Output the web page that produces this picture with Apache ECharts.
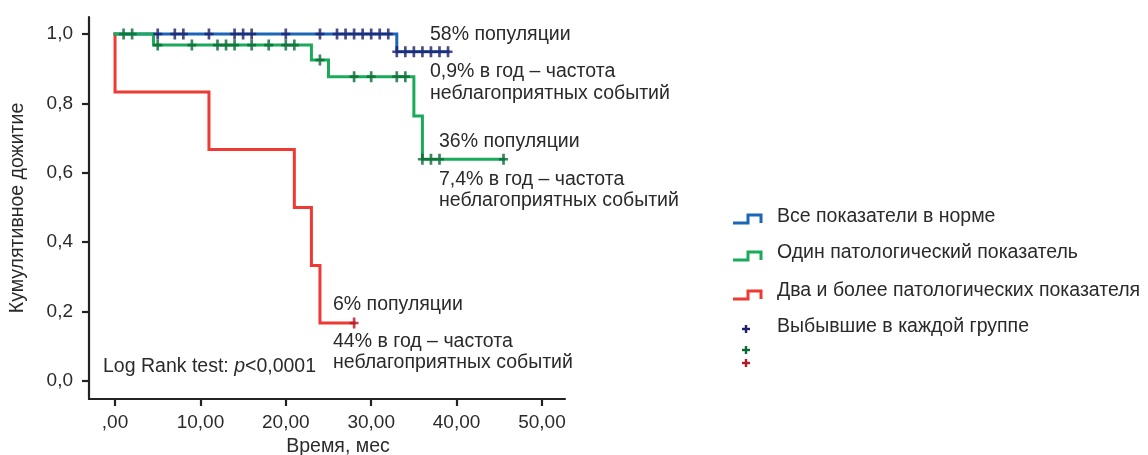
<!DOCTYPE html>
<html>
<head>
<meta charset="utf-8">
<title>Кумулятивное дожитие</title>
<script src="https://cdn.jsdelivr.net/npm/echarts@6/dist/echarts.min.js"></script>
<style>
  html, body { margin: 0; padding: 0; background: #ffffff; }
  #chart { width: 1148px; height: 455px; }
</style>
</head>
<body>
<div id="chart"></div>
<script>
// Tick positions on both axes
const timeTicks = [0, 10, 20, 30, 40, 50];
const survivalTicks = [0, 0.2, 0.4, 0.6, 0.8, 1.0];

// Group 1: all indicators normal — step times and survival after each step
const normalStepTimes = [0, 33];
const normalSurvival = [1.0, 0.949];
const normalCensored = [5, 7, 8, 11, 14, 15, 16, 20, 24, 26, 27, 28, 29, 30, 31, 32,
                        33, 34, 35, 36, 37, 38, 39];

// Group 2: one abnormal indicator
const oneStepTimes = [0, 4.5, 23, 25, 35, 36];
const oneSurvival = [1.0, 0.968, 0.925, 0.877, 0.764, 0.639];
const oneCensored = [1, 2, 5, 9, 12, 13, 14, 16, 18, 20, 21, 24, 28, 30, 33, 34,
                     36, 37, 38, 45.5];

// Group 3: two or more abnormal indicators
const twoStepTimes = [0, 0, 11, 21, 23, 24];
const twoSurvival = [1.0, 0.833, 0.667, 0.5, 0.333, 0.167];
const twoCensored = [28];

const FONT = '"Liberation Sans", Arial, Helvetica, sans-serif';
const FS = 19.5;
const TEXT = '#2a2a2a';

const COL_BLUE = '#1b66b6';
const COL_GREEN = '#19aa5a';
const COL_RED = '#ee3a32';
const MARK_BLUE = '#1d1f6c';
const MARK_GREEN = '#0b6a34';
const MARK_RED = '#b3172b';

// Kaplan–Meier step curve: points at each step, extended to the last follow-up time
function stepLine(times, levels, censored) {
  const pts = times.map((t, i) => [t, levels[i]]);
  const end = Math.max(times[times.length - 1], ...censored);
  pts.push([end, levels[levels.length - 1]]);
  return pts;
}
// Survival level in force at time t
function levelAt(times, levels, t) {
  let s = levels[0];
  for (let i = 0; i < times.length; i++) if (times[i] <= t) s = levels[i];
  return s;
}
function censorPoints(times, levels, censored) {
  return censored.map(t => [t, levelAt(times, levels, t)]);
}

const plusPath = 'path://M28,0 L52,0 L52,38 L80,38 L80,62 L52,62 L52,100 L28,100 L28,62 L0,62 L0,38 L28,38 Z';

function curve(name, color, times, levels, censored, z) {
  return {
    name, type: 'line', step: 'end', z,
    data: stepLine(times, levels, censored),
    symbol: 'none', silent: true,
    lineStyle: { color, width: 3, cap: 'square', join: 'miter' }
  };
}
function marks(name, color, times, levels, censored, z) {
  return {
    name, type: 'scatter', z,
    data: censorPoints(times, levels, censored),
    symbol: plusPath, symbolSize: [9, 11], silent: true,
    itemStyle: { color }
  };
}

const chart = echarts.init(document.getElementById('chart'), null, { renderer: 'canvas' });

// Legend icon: low segment, step up, high segment, short drop at the end
function legendIcon(y, color) {
  return {
    type: 'polyline',
    shape: { points: [[733, y + 8], [748, y + 8], [748, y], [761, y], [761, y + 8]] },
    style: { stroke: color, lineWidth: 3, fill: null, lineJoin: 'miter' }
  };
}
function legendPlus(cx, cy, color) {
  return [
    { type: 'rect', shape: { x: cx - 4, y: cy - 1.2, width: 8, height: 2.4 }, style: { fill: color } },
    { type: 'rect', shape: { x: cx - 1.2, y: cy - 4, width: 2.4, height: 8 }, style: { fill: color } }
  ];
}
function label(x, y, text, extra) {
  return Object.assign({
    type: 'text', x, y,
    style: { text, fill: TEXT, font: FS + 'px ' + FONT, textAlign: 'left', textVerticalAlign: 'middle' }
  }, extra || {});
}

const graphics = [
  // curve annotations
  label(430, 35, '58% популяции'),
  label(430, 72, '0,9% в год – частота'),
  label(430, 94, 'неблагоприятных событий'),
  label(439, 142, '36% популяции'),
  label(439, 180, '7,4% в год – частота'),
  label(439, 201, 'неблагоприятных событий'),
  label(333, 305, '6% популяции'),
  label(333, 342, '44% в год – частота'),
  label(333, 363, 'неблагоприятных событий'),
  {
    type: 'text', x: 103, y: 367,
    style: {
      text: '{a|Log Rank test: }{i|p}{a|<0,0001}',
      textAlign: 'left', textVerticalAlign: 'middle',
      rich: {
        a: { font: FS + 'px ' + FONT, fill: TEXT },
        i: { font: 'italic ' + FS + 'px ' + FONT, fill: TEXT }
      }
    }
  },
  // axis titles
  {
    type: 'text', x: 338, y: 447,
    style: { text: 'Время, мес', fill: TEXT, font: FS + 'px ' + FONT, textAlign: 'center', textVerticalAlign: 'middle' }
  },
  {
    type: 'text', x: 18, y: 208, rotation: Math.PI / 2,
    style: { text: 'Кумулятивное дожитие', fill: TEXT, font: FS + 'px ' + FONT, textAlign: 'center', textVerticalAlign: 'middle' }
  },
  // legend
  legendIcon(215, COL_BLUE),
  legendIcon(252, COL_GREEN),
  legendIcon(291, COL_RED),
  label(777, 217, 'Все показатели в норме'),
  label(777, 253, 'Один патологический показатель'),
  label(777, 291, 'Два и более патологических показателя'),
  label(777, 327, 'Выбывшие в каждой группе'),
  ...legendPlus(746, 329, MARK_BLUE),
  ...legendPlus(746, 350, MARK_GREEN),
  ...legendPlus(746, 363, MARK_RED)
];

chart.setOption({
  animation: false,
  backgroundColor: '#ffffff',
  grid: { left: 89, top: 17, width: 476, height: 382, containLabel: false },
  xAxis: {
    type: 'value', min: -3.05, max: 52.7,
    splitLine: { show: false },
    axisLine: { show: true, onZero: false, lineStyle: { color: '#222', width: 2.2 } },
    axisTick: { show: true, customValues: timeTicks, length: 7, lineStyle: { color: '#222', width: 2.2 } },
    axisLabel: {
      customValues: timeTicks, margin: 14, color: TEXT,
      fontFamily: FONT, fontSize: 19,
      formatter: v => v === 0 ? ',00' : v.toFixed(2).replace('.', ',')
    }
  },
  yAxis: {
    type: 'value', min: -0.052, max: 1.049,
    splitLine: { show: false },
    axisLine: { show: true, onZero: false, lineStyle: { color: '#222', width: 2.2 } },
    axisTick: { show: true, customValues: survivalTicks, length: 7, lineStyle: { color: '#222', width: 2.2 } },
    axisLabel: {
      customValues: survivalTicks, margin: 16, color: TEXT,
      fontFamily: FONT, fontSize: 19,
      formatter: v => v.toFixed(1).replace('.', ',')
    }
  },
  series: [
    curve('Все показатели в норме', COL_BLUE, normalStepTimes, normalSurvival, normalCensored, 2),
    curve('Два и более патологических показателя', COL_RED, twoStepTimes, twoSurvival, twoCensored, 3),
    curve('Один патологический показатель', COL_GREEN, oneStepTimes, oneSurvival, oneCensored, 4),
    marks('Выбывшие: норма', MARK_BLUE, normalStepTimes, normalSurvival, normalCensored, 5),
    marks('Выбывшие: один показатель', MARK_GREEN, oneStepTimes, oneSurvival, oneCensored, 5),
    marks('Выбывшие: два и более', MARK_RED, twoStepTimes, twoSurvival, twoCensored, 5)
  ],
  graphic: graphics
});
</script>
</body>
</html>
